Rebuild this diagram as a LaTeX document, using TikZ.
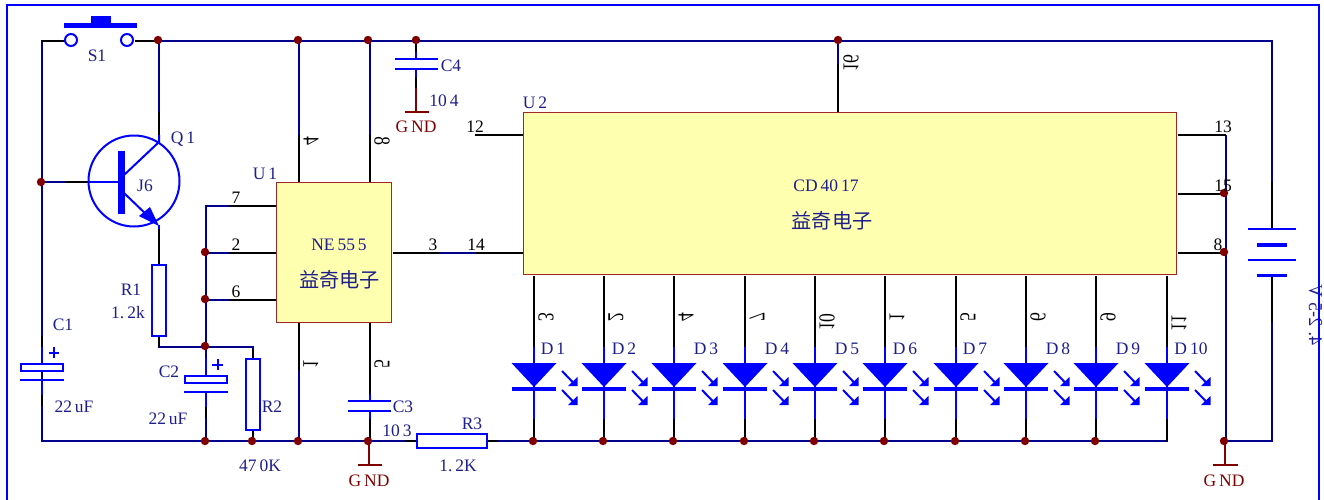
\documentclass[tikz,border=0pt]{standalone}
\usepackage{graphicx}
\usepackage{fontspec}
\setmainfont{Liberation Serif}
\newfontfamily\cjk{Noto Sans CJK SC}
\usetikzlibrary{calc}
\newcommand{\flipped}[1]{\scalebox{1}[-1.3]{#1}}
\definecolor{navy}{HTML}{00008C}
\definecolor{sym}{HTML}{0000FF}
\definecolor{lab}{HTML}{1E1E8C}
\definecolor{dred}{HTML}{800000}
\definecolor{icfill}{HTML}{FFFFB0}
\definecolor{icline}{HTML}{A02828}
\tikzset{
  wire/.style={draw=navy,line width=2pt,line join=miter},
  pinw/.style={draw=black,line width=2pt},
  symw/.style={draw=sym,line width=2pt},
  gndw/.style={draw=dred,line width=2pt},
  junction/.style={circle,fill=dred,inner sep=0pt,minimum size=8.4pt},
  ic/.style={draw=icline,fill=icfill,line width=1.2pt,inner sep=0pt,anchor=north west},
  lbl/.style={text=lab,font=\fontsize{17.5}{19}\selectfont,inner sep=0pt},
  pinl/.style={text=black,font=\fontsize{17.5}{19}\selectfont,inner sep=0pt},
  pinr/.style={pinl,rotate=90},
  gndl/.style={text=dred,font=\fontsize{17.5}{19}\selectfont,inner sep=0pt},
  cjkl/.style={text=lab,font=\cjk\fontsize{20.2}{22}\selectfont,inner sep=0pt},
  terminal/.style={circle,draw=sym,fill=white,line width=2pt,inner sep=0pt,minimum size=12pt},
  res/.style={draw=sym,fill=white,line width=2pt,inner sep=0pt},
}
\begin{document}
\begin{tikzpicture}[x=1pt,y=-1pt]
\useasboundingbox (0,0) rectangle (1324,499);

% supply label (the frame runs over it)
\node[lbl,rotate=90] (vs) at (1315.5,315) {\scalebox{1}[-1.12]{4.\,\,2-5\,\,V}};
% frame
\draw[sym,line width=1.8pt] (7,510) |- (1319,5) -- (1319,510);

% key points
\coordinate (tl) at (42,41);
\coordinate (bl) at (42,441);
\coordinate (tr) at (1272,41);
\coordinate (br) at (1272,441);
\coordinate (u1nw) at (276,182);
\coordinate (u2nw) at (523,112);

% main wires (navy)
\draw[wire] (65,41) -- (tl) -- (bl) -- (417,441);
\draw[wire] (135,41) -- (tr) -- (1272,229);
\draw[wire] (1272,276) -- (br) -- (1226,441) -- (1226,135);
\draw[wire] (487,441) -- (1167,441) -- (1167,419);
\draw[wire] (159,41) -- (159,135);
\draw[wire] (42,182) -- (88,182);
\draw[wire] (299,41) -- (299,182);
\draw[wire] (370,41) -- (370,182);
\draw[wire] (838,41) -- (838,112);
\draw[wire] (276,206) -- (206,206) -- (206,358);
\draw[wire] (206,253) -- (276,253);
\draw[wire] (206,300) -- (276,300);
\draw[wire] (159,336) -- (159,347) -- (253,347) -- (253,358);
\draw[wire] (206,392) -- (206,441);
\draw[wire] (253,430) -- (253,441);
\draw[wire] (299,322) -- (299,441);
\draw[wire] (1178,135) -- (1226,135);
\draw[wire] (393,253) -- (523,253);

% black pin segments
\foreach \a/\b/\c/\d in {
 42/41/65/41, 135/41/158/41, 159/112/159/135, 65/182/88/182,
 299/135/299/182, 370/135/370/182, 838/64/838/112,
 230/206/276/206, 230/253/276/253, 230/300/276/300,
 393/253/440/253, 476/253/523/253, 475/135/523/135,
 299/322/299/370, 370/322/370/394, 370/419/370/441,
 416/41/416/52, 416/77/416/88,
 159/229/159/265, 159/336/159/347, 253/349/253/358, 253/430/253/441,
 42/336/42/347, 42/395/42/406, 206/407/206/418,
 405/441/417/441, 487/441/498/441,
 1178/135/1226/135, 1178/194/1224/194, 1178/253/1224/253,
 1272/182/1272/229, 1272/276/1272/322}
 {\draw[pinw] (\a,\b) -- (\c,\d);}

% junctions
\node[junction] (jsw) at (158,40) {};
\node[junction] (jbase) at (41,182) {};
\node[junction] (jp4) at (298,40) {};
\node[junction] (jp8) at (368,40) {};
\node[junction] (jc4) at (416,40) {};
\node[junction] (jp16) at (838,40) {};
\node[junction] (j2) at (205,252) {};
\node[junction] (j6) at (205,299) {};
\node[junction] (jc2) at (205,346) {};
\node[junction] (jb2) at (205,441) {};
\node[junction] (jr2) at (252,441) {};
\node[junction] (jb1) at (298,441) {};
\node[junction] (jb3) at (368,441) {};
\node[junction] (j15) at (1224,193) {};
\node[junction] (j8) at (1224,252) {};
\node[junction] (jgr) at (1224,441) {};

% IC bodies
\node[ic,minimum width=115pt,minimum height=140pt] (U1) at (u1nw) {};
\node[ic,minimum width=653pt,minimum height=162pt] (U2) at (u2nw) {};
\node[lbl] (t555) at (339,245) {NE\,55\,5};
\node[cjkl] (c555) at (339.5,280) {益奇电子};
\node[lbl] (t4017) at (826,186) {CD\,40\,17};
\node[cjkl] (c4017) at (832,221) {益奇电子};

% S1
\node[terminal] (s1a) at (71,40) {};
\node[terminal] (s1b) at (127,40) {};
\draw[sym,line width=4.5pt] (64,25.5) -- (137,25.5);
\fill[sym] (90.5,16) rectangle (110.5,25);
\node[lbl] (ls1) at (97,56) {S1};

% Q1
\draw[sym,line width=2pt] (134,181) circle (45.5);
\draw[sym,line width=6.5pt] (121.5,151) -- (121.5,213.5);
\draw[symw] (88,182) -- (121,182);
\draw[symw] (124,175) -- (159,142) -- (159,135);
\draw[symw] (124,193) -- (150,218);
\fill[sym] (139,216) -- (150,207) -- (159,226) -- cycle;
\draw[symw] (159,225) -- (159,229);
\node[lbl] (lq1) at (183,139) {Q\,1};
\node[lbl] (lj6) at (145,186) {J6};

% resistors
\draw[res] (152,265) rectangle (166,336);
\draw[res] (246,358.5) rectangle (260,430);
\draw[res] (417,434) rectangle (487,448);

% C1
\draw[symw] (42,347) -- (42,364);
\draw[symw] (42,380) -- (42,395);
\draw[res] (21,364) rectangle (63,371);
\draw[symw] (20,380) -- (64,380);
\draw[sym,line width=2pt] (48.5,352.5) -- (59,352.5) (53.7,347) -- (53.7,358);
% C2
\draw[symw] (206,358) -- (206,375);
\draw[symw] (206,392) -- (206,407);
\draw[res] (185,375.5) rectangle (227,383);
\draw[symw] (184,392) -- (228,392);
\draw[sym,line width=2pt] (212,364.5) -- (222.5,364.5) (217.5,359) -- (217.5,370);
% C3
\draw[symw] (370,394) -- (370,401) (370,411) -- (370,419);
\draw[symw] (348,401) -- (391,401);
\draw[symw] (348,411) -- (391,411);
% C4
\draw[symw] (416,52) -- (416,59) (416,69) -- (416,77);
\draw[symw] (395,59) -- (438,59);
\draw[symw] (395,69) -- (438,69);

% GND
\draw[gndw] (416,88) -- (416,112) (405,112) -- (429,112);
\draw[gndw] (369,441) -- (369,465) (358,465) -- (382,465);
\draw[gndw] (1224.5,441) -- (1224.5,465) (1213,465) -- (1238,465);
\node[gndl] (g1) at (416,127) {G\,ND};
\node[gndl] (g2) at (369,481) {G\,ND};
\node[gndl] (g3) at (1224,481) {G\,ND};

% battery
\draw[symw] (1248,229) -- (1296,229);
\draw[sym,line width=3.8pt] (1257,245) -- (1287,245);
\draw[symw] (1248,260) -- (1296,260);
\draw[sym,line width=3.8pt] (1257,275.5) -- (1287,275.5);

% LEDs
\foreach \n/\x/\j/\p/\py/\dx [count=\k] in {
 D\,1/534/533/3/317/19, D\,2/604/603/2/317/20, D\,3/674/673/4/317/32, D\,4/745/744/7/317/32,
 D\,5/815/814/10/322/32, D\,6/885/884/1/317/20, D\,7/956/955/5/317/19, D\,8/1026/1025/6/317/32,
 D\,9/1096/1095/9/317/32, D\,10/1167/0/11/323/24}{
  \draw[pinw] (\x,276) -- (\x,347);
  \draw[pinw] (\x,419) -- (\x,441);
  \draw[symw] (\x,347) -- (\x,419);
  \fill[sym] (\x-22.5,363) -- (\x+22.5,363) -- (\x,387) -- cycle;
  \draw[sym,line width=4pt] (\x-22,388.5) -- (\x+22,388.5);
  \foreach \yy in {0,19}{
    \draw[sym,line width=2pt] (\x+28,371+\yy) -- (\x+41,384.5+\yy);
    \fill[sym] (\x+43.5,377+\yy) -- (\x+43.5,386+\yy) -- (\x+34,386+\yy) -- cycle;
  }
  \node[lbl] (ld\k) at (\x+\dx,349) {\n};
  \node[pinr] (lp\k) at (\x+12,\py) {\flipped{\p}};
  \ifnum\j>0 \node[junction] (jl\k) at (\j,441) {}; \fi
}

% value labels
\node[lbl] (lc1) at (63,325) {C1};
\node[lbl] (vc1) at (74,407) {22\,uF};
\node[lbl] (lr1) at (131,290) {R1};
\node[lbl] (vr1) at (128,313) {1.\,2k};
\node[lbl] (lc2) at (169,372) {C2};
\node[lbl] (vc2) at (168,419) {22\,uF};
\node[lbl] (lr2) at (272,407) {R2};
\node[lbl] (vr2) at (260,466) {47\,0K};
\node[lbl] (lc3) at (403,407) {C3};
\node[lbl] (vc3) at (397,431) {10\,3};
\node[lbl] (lr3) at (472,424) {R3};
\node[lbl] (vr3) at (458,466) {1.\,2K};
\node[lbl] (lc4) at (451,66) {C4};
\node[lbl] (vc4) at (444,101) {10\,4};
\node[lbl] (lu1) at (265,174) {U\,1};
\node[lbl] (lu2) at (535,103) {U\,2};

% pin labels
\node[pinl] (p7) at (236,198) {7};
\node[pinl] (p2) at (236,245) {2};
\node[pinl] (p6) at (236,292) {6};
\node[pinl] (p3) at (433,245) {3};
\node[pinl] (p14) at (476,245) {14};
\node[pinl] (p12) at (475,127) {12};
\node[pinl] (p13) at (1223,127) {13};
\node[pinl] (p15) at (1223,186) {15};
\node[pinl] (p8r) at (1218,245) {8};
\node[pinr] (r4) at (311,141) {\flipped{4}};
\node[pinr] (r8) at (382,141) {\flipped{8}};
\node[pinr] (r1) at (311,364) {\flipped{1}};
\node[pinr] (r2) at (382,364) {\flipped{5}};
\node[pinr] (r16) at (851,63) {\flipped{16}};
\end{tikzpicture}
\end{document}
